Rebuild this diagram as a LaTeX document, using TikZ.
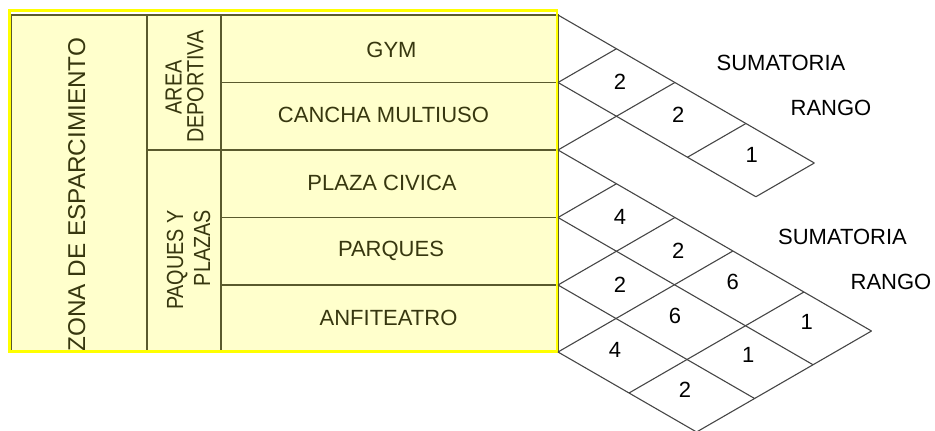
\documentclass[tikz,border=0pt]{standalone}
\usepackage{fontspec}
\setmainfont{Liberation Sans}
\newfontfamily\condfont[FakeStretch=0.85]{Liberation Sans}
\definecolor{fillY}{RGB}{255,255,204}
\definecolor{tline}{RGB}{90,90,45}
\definecolor{ttext}{RGB}{55,55,15}
\definecolor{bordY}{RGB}{255,255,0}
\definecolor{gline}{RGB}{70,70,70}
\newcommand\gpt[3]{\coordinate (#1) at ({558+0.866*(#3-#2)},{(#2+#3)/2});}
\begin{document}
\begin{tikzpicture}[x=1pt,y=-1pt,
  tbl/.style={draw=tline,line width=1.1pt},
  grd/.style={draw=gline,line width=1.1pt},
  ctext/.style={inner sep=0pt,anchor=base,text=ttext,font=\fontsize{22}{26}\selectfont},
  vtext/.style={inner sep=0pt,rotate=90,text=ttext,font=\condfont\fontsize{23.3}{26}\selectfont},
  num/.style={inner sep=0pt,anchor=center,font=\fontsize{22}{26}\selectfont},
  lbl/.style={inner sep=0pt,anchor=center,font=\fontsize{22}{26}\selectfont}]
\useasboundingbox (0,0) rectangle (935,431);
% table
\fill[fillY] (11.5,15) rectangle (558,352);
\draw[tbl] (11.5,15) rectangle (558,352);
\draw[tbl] (147,15) -- (147,352);
\draw[tbl] (221,15) -- (221,352);
\draw[tbl] (147,150) -- (558,150);
\draw[tbl] (221,82.5) -- (558,82.5);
\draw[tbl] (221,217.5) -- (558,217.5);
\draw[tbl] (221,285) -- (558,285);
\begin{scope}
\clip (11.5,15) rectangle (147,351);
\node[inner sep=0pt,rotate=90,anchor=base,text=ttext,font=\fontsize{24.3}{28}\selectfont] (zona) at (85,194.7) {ZONA DE ESPARCIMIENTO};
\end{scope}
\draw[bordY,line width=2.6pt] (9.5,10.5) rectangle (557,351.5);
\node[vtext,anchor=base] (area) at (181.7,87.5) {AREA};
\node[vtext,anchor=base] (deport) at (203.3,86.5) {DEPORTIVA};
\node[vtext,anchor=base east] (paq) at (183,210) {PAQUES Y};
\node[vtext,anchor=base east] (plaz) at (210,210) {PLAZAS};
\node[ctext] (gym) at (391.5,57.4) {GYM};
\node[ctext] (cancha) at (383.5,122.9) {CANCHA MULTIUSO};
\node[ctext] (plaza) at (382,190.9) {PLAZA CIVICA};
\node[ctext] (parques) at (391,256.9) {PARQUES};
\node[ctext] (anfi) at (388.5,325.9) {ANFITEATRO};
% upper grid
\gpt{u11}{15}{15}
\gpt{u22}{82.5}{82.5}
\gpt{u33}{150}{150}
\gpt{u1a}{15}{82.5}
\gpt{u1b}{15}{150}
\gpt{u1s}{15}{232}
\gpt{u1r}{15}{311}
\gpt{u2s}{82.5}{232}
\gpt{u2r}{82.5}{311}
\draw[grd] (u11) -- (u1r);
\draw[grd] (u22) -- (u2r);
\draw[grd] (u22) -- (u1a);
\draw[grd] (u33) -- (u1b);
\draw[grd] (u2s) -- (u1s);
\draw[grd] (u2r) -- (u1r);
% lower grid
\gpt{l1}{150}{150}
\gpt{l2}{217.5}{217.5}
\gpt{l3}{285}{285}
\gpt{l4}{352}{352}
\gpt{e1}{150}{512}
\gpt{e2}{217.5}{512}
\gpt{e3}{285}{512}
\gpt{e4}{352}{512}
\gpt{t2}{150}{217.5}
\gpt{t3}{150}{285}
\gpt{t4}{150}{352}
\gpt{b1}{352}{434}
\gpt{t5}{150}{434}
\draw[grd] (l1) -- (e1);
\draw[grd] (l2) -- (e2);
\draw[grd] (l3) -- (e3);
\draw[grd] (l4) -- (e4);
\draw[grd] (l2) -- (t2);
\draw[grd] (l3) -- (t3);
\draw[grd] (l4) -- (t4);
\draw[grd] (b1) -- (t5);
\draw[grd] (e4) -- (e1);
% numbers upper
\node[num] (ua) at (620,82) {2};
\node[num] (ub) at (678.3,115) {2};
\node[num] (uc) at (751.7,155) {1};
% numbers lower
\node[num] (la) at (620,217.3) {4};
\node[num] (lb) at (678.3,251) {2};
\node[num] (lc) at (620,285) {2};
\node[num] (ld) at (732.7,281.7) {6};
\node[num] (le) at (675,315.7) {6};
\node[num] (lf) at (615,350) {4};
\node[num] (lg) at (806.7,321.7) {1};
\node[num] (lh) at (748.3,355) {1};
\node[num] (li) at (685,389.5) {2};
% labels
\node[lbl] (sum1) at (781,63) {SUMATORIA};
\node[lbl] (rang1) at (831,108) {RANGO};
\node[lbl] (sum2) at (842.5,236.7) {SUMATORIA};
\node[lbl] (rang2) at (891,282) {RANGO};
\end{tikzpicture}
\end{document}
